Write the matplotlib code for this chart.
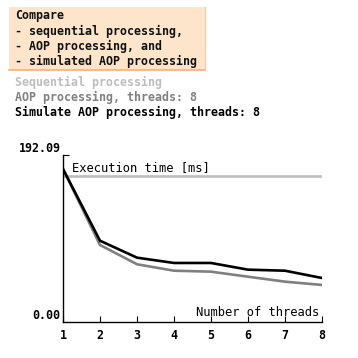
import matplotlib
matplotlib.use("Agg")
import matplotlib.pyplot as plt
from matplotlib.patches import Rectangle

threads = [1, 2, 3, 4, 5, 6, 7, 8]
sequential = [167.9] * 8
aop = [176.0, 88.6, 66.4, 59.0, 57.9, 52.1, 46.4, 42.6]
simulated = [176.0, 93.5, 74.0, 67.9, 67.9, 60.2, 59.0, 50.6]
y_max = 192.09
title_lines = ["Compare", "- sequential processing,", "- AOP processing, and", "- simulated AOP processing"]
legend_labels = ["Sequential processing", "AOP processing, threads: 8", "Simulate AOP processing, threads: 8"]
colors = ["#bdbdbd", "#808080", "#000000"]

W = H = 358
fig = plt.figure(figsize=(3.58, 3.58), dpi=100)
font = dict(family="DejaVu Sans Mono", fontweight="bold")
fs = 8.4

def fx(px):
    return px / W

def fy(py):
    return 1 - py / H

# title box
box = Rectangle((fx(9), fy(70)), fx(205) - fx(9), fy(7) - fy(70), transform=fig.transFigure,
                facecolor="#fde5cc", edgecolor="none")
fig.add_artist(box)
fig.add_artist(plt.Line2D([fx(9), fx(205)], [fy(70), fy(70)], transform=fig.transFigure, color="#f5b07a", lw=1.2))
fig.add_artist(plt.Line2D([fx(205), fx(205)], [fy(7), fy(70)], transform=fig.transFigure, color="#f8c9a0", lw=0.8))
for i, t in enumerate(title_lines):
    fig.text(fx(15), fy(16 + i * 15.3), t, fontsize=fs, va="center", ha="left", color="#111111", **font)
for i, (t, c) in enumerate(zip(legend_labels, colors)):
    fig.text(fx(15), fy(82 + i * 15), t, fontsize=fs, va="center", ha="left", color=c, **font)

ax = fig.add_axes([fx(63), fy(322), fx(322) - fx(63), fy(155) - fy(322)])
ax.plot(threads, sequential, color=colors[0], lw=1.9)
ax.plot(threads, aop, color=colors[1], lw=1.9)
ax.plot(threads, simulated, color=colors[2], lw=1.9)
ax.set_xlim(1, 8)
ax.set_ylim(0, y_max)
for s in ["top", "right"]:
    ax.spines[s].set_visible(False)
ax.spines["left"].set_linewidth(1)
ax.spines["bottom"].set_linewidth(1)
ax.set_xticks(threads)
ax.set_xticklabels([str(t) for t in threads], fontsize=fs, **font)
ax.tick_params(axis="x", direction="in", length=4, width=0.8, pad=5)
ax.set_yticks([y_max])
ax.set_yticklabels([])
ax.tick_params(axis="y", direction="in", length=4, width=0.8)
ax.text(-0.01, 1.0, f"{y_max:.2f}", transform=ax.transAxes, ha="right", va="bottom", fontsize=fs, **font)
ax.text(-0.01, 0.0, "0.00", transform=ax.transAxes, ha="right", va="bottom", fontsize=fs, **font)
ax.text(0.035, 0.965, "Execution time [ms]", transform=ax.transAxes, ha="left", va="top", fontsize=fs + 0.3,
        family="DejaVu Sans Mono")
ax.text(0.99, 0.02, "Number of threads", transform=ax.transAxes, ha="right", va="bottom", fontsize=fs + 0.3,
        family="DejaVu Sans Mono")
fig.savefig("out.png", dpi=100)
